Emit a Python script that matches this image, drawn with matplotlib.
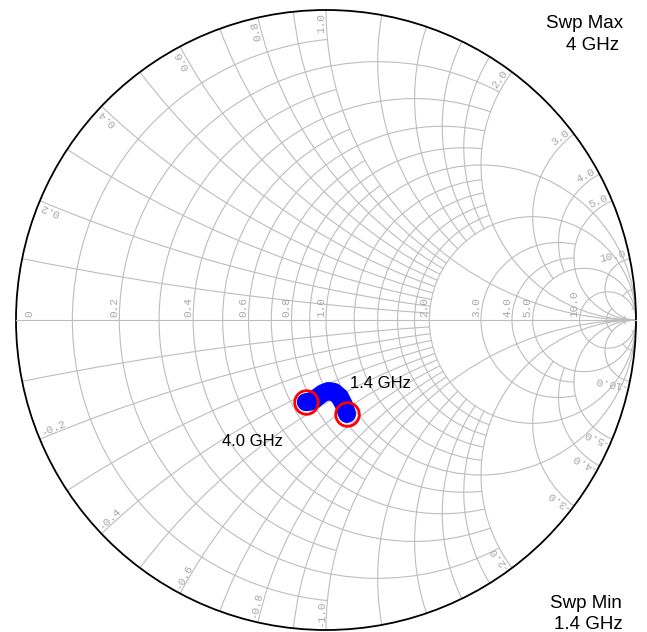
import numpy as np
import matplotlib.pyplot as plt
from matplotlib.patches import Arc, Circle

inf = np.inf

# resistance circles and how far (in |x|) each one is drawn
r_grid = [0.1, 0.2, 0.3, 0.4, 0.5, 0.6, 0.7, 0.8, 0.9, 1.0,
          1.2, 1.4, 1.6, 1.8, 2.0, 3.0, 4.0, 5.0, 10.0, 20.0, 50.0]
r_grid_xmax = [1, 2, 1, 2, 1, 2, 1, 2, 1, inf,
               2, 2, 2, 2, inf, 5, 5, inf, inf, 10, 20]

# reactance arcs and how far (in r) each one is drawn
x_grid = [0.1, 0.2, 0.3, 0.4, 0.5, 0.6, 0.7, 0.8, 0.9, 1.0,
          1.2, 1.4, 1.6, 1.8, 2.0, 3.0, 4.0, 5.0, 10.0, 20.0, 50.0]
x_grid_rmax = [2, 2, 2, 2, 2, 2, 2, 2, 2, inf,
               2, 2, 2, 2, inf, 5, 5, inf, inf, 10, 20]

r_labels = [0.2, 0.4, 0.6, 0.8, 1.0, 2.0, 3.0, 4.0, 5.0, 10.0]
x_labels = [0.2, 0.4, 0.6, 0.8, 1.0, 2.0, 3.0, 4.0, 5.0, 10.0]

# S-parameter trace (reflection coefficient), 1.4 GHz -> 4.0 GHz
trace_re = [0.068, 0.058, 0.045, 0.026, 0.008, -0.010, -0.028, -0.042, -0.055, -0.065]
trace_im = [-0.303, -0.274, -0.248, -0.232, -0.229, -0.236, -0.249, -0.261, -0.264, -0.265]
marker_freqs = ["1.4 GHz", "4.0 GHz"]

grid_col = "#bdbdbd"
lab_col = "#a8a8a8"
px = 1 / 310.0


def gamma(z):
    return (z - 1) / (z + 1)


fig = plt.figure(figsize=(6.47, 6.32), dpi=100)
ax = fig.add_axes([0, 0, 1, 1])
ax.set_xlim(-326 / 310, 321 / 310)
ax.set_ylim(-312 / 310, 320 / 310)
ax.set_aspect("equal")
ax.axis("off")

# resistance circles
for r, xm in zip(r_grid, r_grid_xmax):
    c = r / (1 + r)
    rho = 1 / (1 + r)
    if np.isinf(xm):
        t1, t2 = 0, 360
    else:
        g = gamma(r + 1j * xm)
        phi = np.degrees(np.angle(g - c))
        t1, t2 = phi, 360 - phi
    ax.add_patch(Arc((c, 0), 2 * rho, 2 * rho, theta1=t1, theta2=t2,
                     color=grid_col, lw=0.8))

# reactance arcs
for x, rm in zip(x_grid, x_grid_rmax):
    cen = 1 + 1j / x
    rho = 1 / x
    p0 = np.degrees(np.angle(gamma(1j * x) - cen)) % 360
    if np.isinf(rm):
        p1 = 270
    else:
        p1 = np.degrees(np.angle(gamma(rm + 1j * x) - cen)) % 360
    ax.add_patch(Arc((1, 1 / x), 2 * rho, 2 * rho, theta1=p0, theta2=p1,
                     color=grid_col, lw=0.8))
    ax.add_patch(Arc((1, -1 / x), 2 * rho, 2 * rho, theta1=360 - p1, theta2=360 - p0,
                     color=grid_col, lw=0.8))

ax.plot([-1, 1], [0, 0], color=grid_col, lw=0.8)
ax.add_patch(Circle((0, 0), 1, fill=False, color="black", lw=1.3))

# labels
lab_font = dict(family="Liberation Mono", size=8, color=lab_col, rotation_mode="anchor")
ax.text(-1 + 16 * px, 3 * px, "0", rotation=90, ha="left", va="baseline", **lab_font)
for r in r_labels:
    gx = (r - 1) / (r + 1)
    ax.text(gx - 2 * px, 3 * px, "%.1f" % r, rotation=90, ha="left", va="baseline", **lab_font)


def edge_label(p, rot, s, ha):
    up = np.radians(rot + 90)
    q = p + 2 * px * np.exp(1j * up)
    ax.text(q.real, q.imag, s, rotation=rot, ha=ha, va="baseline", **lab_font)


for x in x_labels:
    p = gamma(1j * x) * (1 - 3 * px)
    th = np.degrees(np.angle(p))
    edge_label(p, th, "%.1f" % x, "right")
    edge_label(np.conj(p), 180 - th, "-%.1f" % x, "left")

# trace and markers
ax.plot(trace_re, trace_im, color="blue", lw=13, solid_capstyle="round", solid_joinstyle="round")
ax.plot([trace_re[0], trace_re[-1]], [trace_im[0], trace_im[-1]], "o", ms=17, mfc="none",
        mec="red", mew=2)

txt = dict(family="Liberation Sans", size=12, color="black")
ax.text((350 - 326) * px, (320 - 387.5) * px, marker_freqs[0], ha="left", va="baseline", **txt)
ax.text((222 - 326) * px, (320 - 446) * px, marker_freqs[1], ha="left", va="baseline", **txt)

swp = dict(family="Liberation Sans", size=13.5, color="black")
fig.text(585 / 647, 1 - 28 / 632, "Swp Max", ha="center", va="baseline", **swp)
fig.text(593 / 647, 1 - 50 / 632, "4 GHz", ha="center", va="baseline", **swp)
fig.text(586 / 647, 1 - 608 / 632, "Swp Min", ha="center", va="baseline", **swp)
fig.text(588 / 647, 1 - 629 / 632, "1.4 GHz", ha="center", va="baseline", **swp)

fig.savefig("out.png", dpi=100)
